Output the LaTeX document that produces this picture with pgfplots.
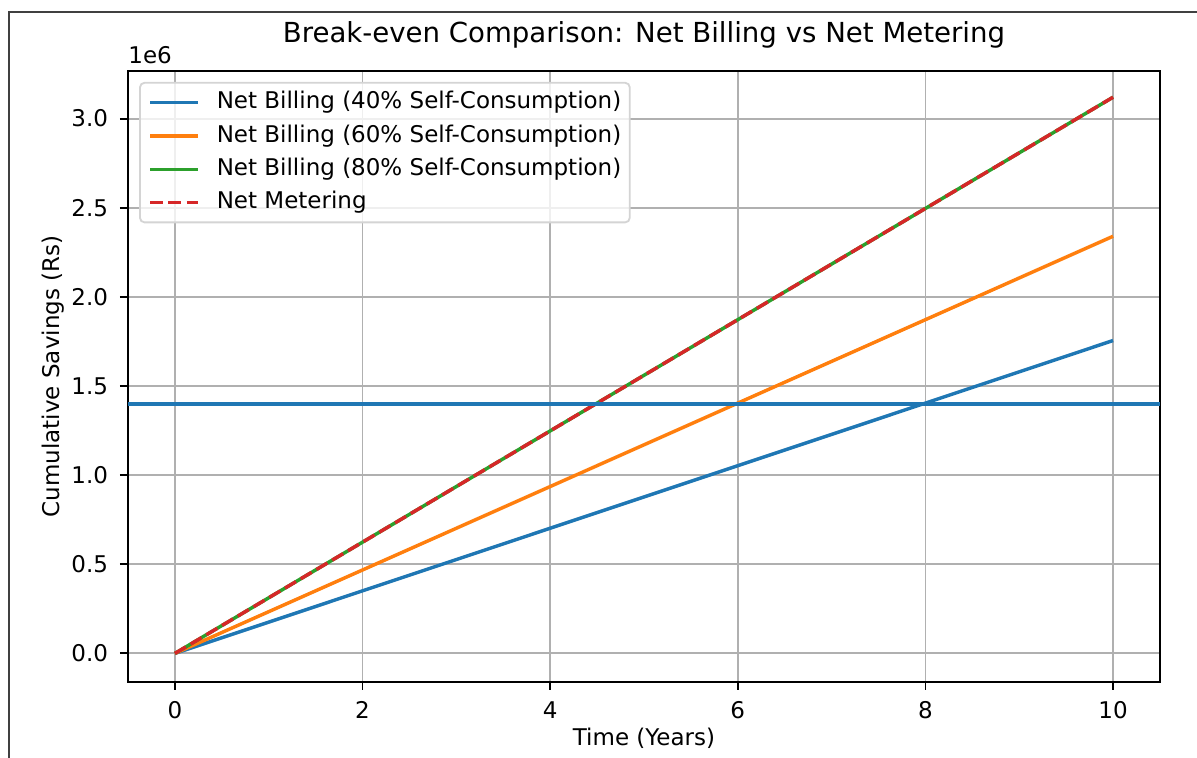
\documentclass[border=0pt]{standalone}
\usepackage{fontspec}
\setmainfont{DejaVu Sans}
\usepackage{pgfplots}
\pgfplotsset{compat=1.18}
\usetikzlibrary{calc}
\definecolor{C0}{HTML}{1F77B4}
\definecolor{C1}{HTML}{FF7F0E}
\definecolor{C2}{HTML}{2CA02C}
\definecolor{C3}{HTML}{D62728}
\definecolor{gridgray}{HTML}{B0B0B0}
\definecolor{leggray}{HTML}{D4D4D4}
\definecolor{framegray}{HTML}{404040}
\begin{document}
\begin{tikzpicture}
\useasboundingbox (-55.65pt,-33.04pt) rectangle (464.8pt,296.5pt);
\clip (-55.65pt,-33.04pt) rectangle (464.8pt,296.5pt);
\draw[line width=0.9pt, framegray] (-51.74pt,-40pt) -- (-51.74pt,291.3pt) -- (470pt,291.3pt);
\begin{axis}[
  name=ax,
  at={(0pt,0pt)}, anchor=south west,
  scale only axis, width=448.7pt, height=265.7pt,
  xmin=-0.5, xmax=10.5, ymin=-160000, ymax=3268000,
  xtick={0,2,4,6,8,10},
  ytick={0,500000,1000000,1500000,2000000,2500000,3000000},
  yticklabels={0.0,0.5,1.0,1.5,2.0,2.5,3.0},
  scaled y ticks=false,
  /pgf/number format/assume math mode=true,
  tick align=outside, major tick length=3.5pt,
  xtick pos=bottom, ytick pos=left,
  tick style={black, line width=0.8pt},
  grid=major, major grid style={gridgray, line width=0.8pt},
  axis line style={black, line width=0.8pt},
  ticklabel style={font=\fontsize{10}{12}\selectfont},
  xticklabel style={anchor=north, inner sep=0pt, yshift=-4.8pt},
  yticklabel style={anchor=east, inner sep=0pt, xshift=-5pt},
  title={Break-even Comparison: Net Billing vs Net Metering},
  title style={font=\fontsize{12}{14}\selectfont, at={(axis description cs:0.5,1)}, anchor=base, yshift=6.1pt, inner sep=0pt},
  xlabel={Time (Years)},
  every axis x label/.style={at={(axis description cs:0.5,0)}, anchor=base, yshift=-27.8pt, inner sep=0pt, font=\fontsize{10}{12}\selectfont},
  ylabel={Cumulative Savings (Rs)},
  every axis y label/.style={at={($(axis description cs:0,0.5)+(-29.6pt,0pt)$)}, rotate=90, anchor=base, inner sep=0pt, font=\fontsize{10}{12}\selectfont},
  legend cell align=left,
  legend image code/.code={\draw[#1] (0pt,0pt) -- (21pt,0pt);},
  legend style={at={(rel axis cs:0,1)}, anchor=north west, xshift=4.8pt, yshift=-4.8pt,
    draw=leggray, line width=0.8pt, rounded corners=2pt, fill=white, fill opacity=0.8, text opacity=1,
    inner xsep=3.7pt, inner ysep=3.7pt, row sep=4.7pt, column sep=7.2pt,
    font=\fontsize{10}{12}\selectfont,
    nodes={inner sep=0pt, text height=7.6pt, text depth=2.2pt}},
]
\addplot[C0, line width=1.5pt] coordinates {(0,0) (1,175500) (2,351000) (3,526500) (4,702000) (5,877500) (6,1053000) (7,1228500) (8,1404000) (9,1579500) (10,1755000)};
\addlegendentry{Net Billing (40\% Self-Consumption)}
\addplot[C1, line width=1.5pt] coordinates {(0,0) (1,234000) (2,468000) (3,702000) (4,936000) (5,1170000) (6,1404000) (7,1638000) (8,1872000) (9,2106000) (10,2340000)};
\addlegendentry{Net Billing (60\% Self-Consumption)}
\addplot[C2, line width=1.5pt] coordinates {(0,0) (1,312000) (2,624000) (3,936000) (4,1248000) (5,1560000) (6,1872000) (7,2184000) (8,2496000) (9,2808000) (10,3120000)};
\addlegendentry{Net Billing (80\% Self-Consumption)}
\addplot[C3, line width=1.5pt, dash pattern=on 5.55pt off 2.4pt] coordinates {(0,0) (1,312000) (2,624000) (3,936000) (4,1248000) (5,1560000) (6,1872000) (7,2184000) (8,2496000) (9,2808000) (10,3120000)};
\addlegendentry{Net Metering}
\addplot[C0, line width=1.5pt, forget plot] coordinates {(-0.5,1400000) (10.5,1400000)};
\end{axis}
\node[anchor=base west, inner sep=0pt, yshift=3pt, font=\fontsize{10}{12}\selectfont] at (ax.north west) {1e6};
\end{tikzpicture}
\end{document}
